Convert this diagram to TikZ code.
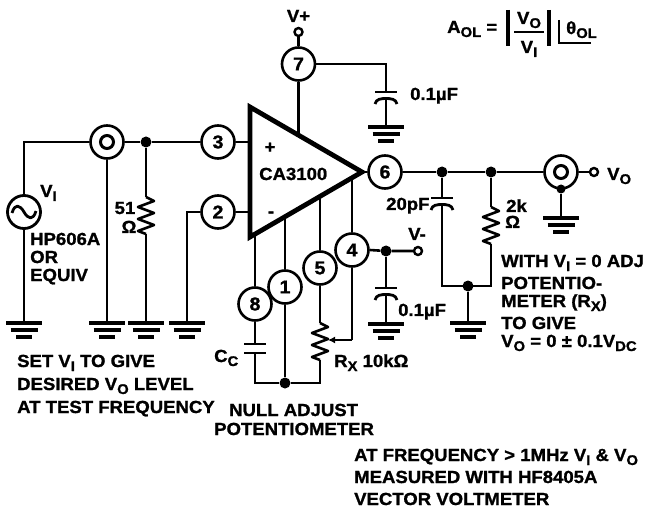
\documentclass[tikz,border=0pt]{standalone}
\usepackage{fontspec}
\setmainfont{Liberation Sans}[FakeStretch=1.06,BoldFeatures={FakeBold=1.2}]
\usetikzlibrary{arrows.meta,calc}
\newcommand{\sbs}[1]{\raisebox{-4pt}{\fontsize{14}{14}\selectfont #1}}
\tikzset{
  wire/.style={line width=2.6pt,line join=miter},
  pinc/.style={circle,draw,line width=2.6pt,minimum size=33pt,inner sep=0pt,fill=white,font=\fontsize{18.5}{18}\selectfont\bfseries},
  coax/.style={circle,draw,line width=2.6pt,minimum size=33pt,inner sep=0pt},
  coaxin/.style={circle,draw,line width=3pt,minimum size=13pt,inner sep=0pt},
  term/.style={circle,draw,line width=2.4pt,minimum size=8pt,inner sep=0pt,fill=white},
  dotn/.style={circle,fill=black,minimum size=11pt,inner sep=0pt},
  lbl/.style={anchor=base west,inner sep=0pt,font=\fontsize{17.5}{20}\selectfont\bfseries},
  lblc/.style={anchor=base,inner sep=0pt,font=\fontsize{17.5}{20}\selectfont\bfseries},
  gnd/.pic={
    \draw[line width=3.2pt] (-18,0) -- (18,0);
    \draw[line width=3.2pt] (-13.5,7) -- (13.5,7);
    \draw[line width=3.2pt] (-8,14) -- (8,14);
  },
  ccap/.pic={
    \draw[line width=2.8pt] (-11,0) -- (11,0);
    \draw[line width=2.8pt] (-11,12) .. controls (-10,7) and (-5,6.5) .. (0,6.5) .. controls (5,6.5) and (10,7) .. (11,12);
  },
  zig/.pic={
    \draw[wire,line join=round] (0,0) -- (8,4) -- (-8,10) -- (8,16) -- (-8,22) -- (8,28) -- (-8,34) -- (0,37);
  }
}
\begin{document}
\begin{tikzpicture}[x=1pt,y=-1pt]
\useasboundingbox (0,0) rectangle (646,508);

% --- named points
\coordinate (srcTop) at (24,142);
\coordinate (g1) at (24,323);
\coordinate (g2) at (107,323);
\coordinate (g3) at (146,323);
\coordinate (g4) at (187,323);
\coordinate (p2L) at (187,212);
\coordinate (triA) at (250,107);
\coordinate (triB) at (250,237);
\coordinate (triC) at (362,172);
\coordinate (in3) at (250,142);
\coordinate (in2) at (250,212);
\coordinate (v7a) at (298.5,134);
\coordinate (c7top) at (386,64);
\coordinate (c7p) at (386,92);
\coordinate (g7) at (386,127);
\coordinate (t8) at (255,234);
\coordinate (t1) at (285,217);
\coordinate (t5) at (320,197);
\coordinate (t4) at (352,178);
\coordinate (c8a) at (255,344);
\coordinate (c8b) at (255,353);
\coordinate (bl) at (255,383);
\coordinate (br) at (320,383);
\coordinate (r5t) at (320,323);
\coordinate (r5b) at (320,360);
\coordinate (wipc) at (352,340);
\coordinate (wipt) at (328,340);
\coordinate (c4p) at (386,288);
\coordinate (g5) at (386,324);
\coordinate (c20p) at (442,198);
\coordinate (bot20) at (442,286);
\coordinate (botR) at (491,286);
\coordinate (r2t) at (491,207);
\coordinate (r2b) at (491,244);
\coordinate (g6) at (468,323);
\coordinate (g8) at (561,218);
\coordinate (r51t) at (146,197);
\coordinate (r51b) at (146,234);

% --- op amp
\draw[line width=4.8pt,line join=miter,fill=white] (triA) -- (triC) -- (triB) -- cycle;

% --- circles
\node[pinc] (p3) at (218,142) {3};
\node[pinc] (p2) at (218,212) {2};
\node[pinc] (p7) at (298.5,64) {7};
\node[pinc] (p6) at (385,172) {6};
\node[pinc] (p4) at (352,250) {4};
\node[pinc] (p5) at (320,268) {5};
\node[pinc] (p1) at (285,287) {1};
\node[pinc] (p8) at (255,304) {8};
\node[coax] (cx1) at (107,142) {};
\node[coaxin] (cx1i) at (107,142) {};
\node[coax] (cx2) at (561,172) {};
\node[coaxin] (cx2i) at (561,172) {};
\node[circle,draw,line width=2.8pt,minimum size=33pt,inner sep=0pt] (src) at (24,212) {};
\node[term] (tp) at (298.5,32) {};
\node[term] (tm) at (418,251) {};
\node[term] (to) at (594,172) {};
\node[dotn] (j1) at (146,142) {};
\node[dotn] (j6a) at (442,172) {};
\node[dotn] (j6b) at (491,172) {};
\node[dotn] (j4) at (386,251) {};
\node[dotn] (jb) at (285,383) {};
\node[dotn] (jg) at (468,286) {};
\node[dotn,minimum size=9pt] (jcx) at (561,189) {};

% --- wires
\draw[wire] (src.north) -- (srcTop) -- (cx1.west);
\draw[wire] (src.south) -- (g1);
\draw[wire] (cx1.south) -- (g2);
\draw[wire] (cx1.east) -- (j1) -- (p3.west);
\draw[wire] (p3.east) -- (in3);
\draw[wire] (j1) -- (r51t);
\draw[wire] (r51b) -- (g3);
\draw[wire] (p2.west) -- (p2L) -- (g4);
\draw[wire] (p2.east) -- (in2);
\draw[wire] (tp) -- (p7.north);
\draw[wire] (p7.south) -- (v7a);
\draw[wire] (p7.east) -- (c7top) -- (c7p);
\draw[wire] ($(c7p)+(0,7)$) -- (g7);
\draw[wire] (triC) -- (p6.west);
\draw[wire] (p6.east) -- (j6a) -- (j6b) -- (cx2.west);
\draw[wire] (cx2.east) -- (to);
\draw[wire] (jcx) -- (g8);
\draw[wire] (j6a) -- (c20p);
\draw[wire] ($(c20p)+(0,7)$) -- (bot20) -- (botR) -- (r2b);
\draw[wire] (j6b) -- (r2t);
\draw[wire] (jg) -- (g6);
\draw[wire] (t8) -- (p8.north);
\draw[wire] (t1) -- (p1.north);
\draw[wire] (t5) -- (p5.north);
\draw[wire] (t4) -- (p4.north);
\draw[wire] (p8.south) -- (c8a);
\draw[wire] (c8b) -- (bl) -- (jb) -- (br) -- (r5b);
\draw[wire] (p1.south) -- (jb);
\draw[wire] (p5.south) -- (r5t);
\draw[wire] (p4.south) -- (wipc);
\draw[wire,-{Latex[length=7pt,width=7pt]}] (wipc) -- (wipt);
\draw[wire] (p4.east) -- (j4) -- (tm);
\draw[wire] (j4) -- (c4p);
\draw[wire] ($(c4p)+(0,7)$) -- (g5);

% --- components
\pic at (g1) {gnd}; \pic at (g2) {gnd}; \pic at (g3) {gnd}; \pic at (g4) {gnd};
\pic at (g7) {gnd}; \pic at (g5) {gnd}; \pic at (g6) {gnd}; \pic at (g8) {gnd};
\pic at (c7p) {ccap}; \pic at (c4p) {ccap}; \pic at (c20p) {ccap};
\pic at (r51t) {zig}; \pic at (r2t) {zig}; \pic at (r5t) {zig};
\draw[line width=2.8pt] (244,344) -- (266,344) (244,353) -- (266,353);
\draw[line width=2.8pt,line join=round] (12,213) .. controls (15,203) and (20,205) .. (24,212) .. controls (28,219) and (33,221) .. (36,211);

% --- labels on the circuit
\node[lbl] (tVI) at (40,197) {V\sbs{I}};
\node[lbl] (t606) at (30,245) {HP606A};
\node[lbl] (tor) at (30,263) {OR};
\node[lbl] (teq) at (30,281) {EQUIV};
\node[lblc] (t51) at (125,214) {51};
\node[lblc] (tom1) at (129,233) {Ω};
\node[lbl] (tca) at (259,180) {CA3100};
\node[lblc] (tplus) at (270,153) {+};
\node[lblc] (tminus) at (271,217) {-};
\node[lblc] (tvp) at (298.5,22) {V+};
\node[lblc] (tvm) at (417,240) {V-};
\node[lbl] (tc1) at (410,100) {0.1µF};
\node[lbl] (tc2) at (398,316) {0.1µF};
\node[lbl] (t20) at (386,210) {20pF};
\node[lbl] (t2k) at (506,212) {2k};
\node[lbl] (tom2) at (505,228) {Ω};
\node[lbl] (tvo) at (607,180) {V\sbs{O}};
\node[lbl] (tcc) at (214,362) {C\sbs{C}};
\node[lbl] (trx) at (334,367) {R\sbs{X} 10kΩ};

% --- notes
\node[lbl] at (17,367) {SET V\sbs{I} TO GIVE};
\node[lbl] at (17,390) {DESIRED V\sbs{O} LEVEL};
\node[lbl] at (17,413) {AT TEST FREQUENCY};
\node[lbl] at (229,416) {NULL ADJUST};
\node[lbl] at (214,435) {POTENTIOMETER};
\node[lbl] at (501,267) {WITH V\sbs{I} = 0 ADJ};
\node[lbl] at (501,289) {POTENTIO-};
\node[lbl] at (501,307) {METER (R\sbs{X})};
\node[lbl] at (501,329) {TO GIVE};
\node[lbl] at (501,347) {V\sbs{O} = 0 ± 0.1V\sbs{DC}};
\node[lbl] at (354,461) {AT FREQUENCY > 1MHz V\sbs{I} \& V\sbs{O}};
\node[lbl] at (354,483) {MEASURED WITH HF8405A};
\node[lbl] at (354,505) {VECTOR VOLTMETER};

% --- formula
\node[lbl] (aol) at (447,33) {A\sbs{OL} =};
\node[lblc] (fvo) at (529,24) {V\sbs{O}};
\node[lblc] (fvi) at (529,53) {V\sbs{I}};
\node[lbl] (fth) at (566,34) {θ\sbs{OL}};
\draw[line width=2.4pt] (514,32) -- (544,32);
\draw[line width=3.2pt] (508,10) -- (508,46) (549,10) -- (549,46);
\draw[line width=2.8pt] (559,20) -- (559,43) -- (591,43);
\end{tikzpicture}
\end{document}
